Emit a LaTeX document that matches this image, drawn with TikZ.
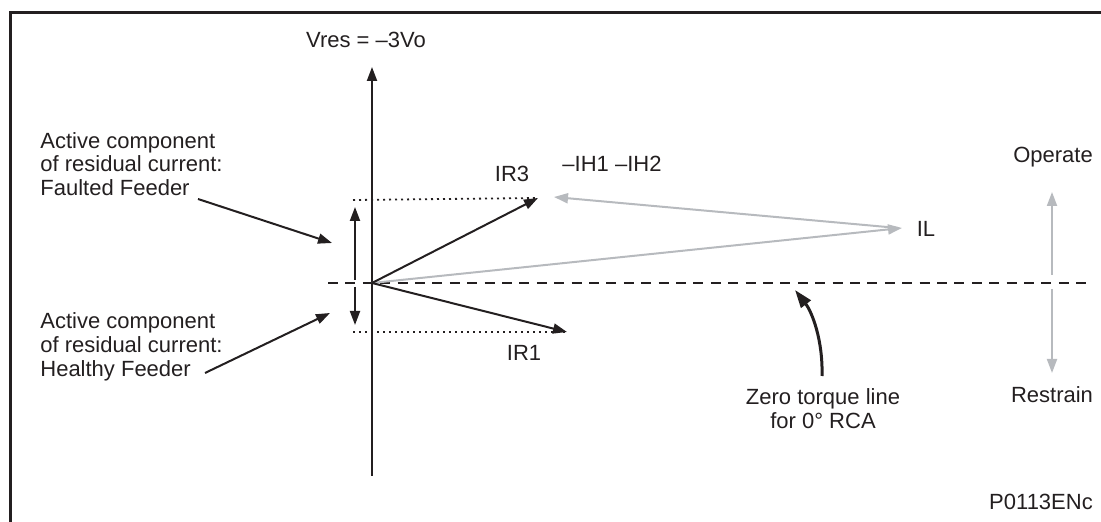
\documentclass[tikz,border=0pt]{standalone}
\usepackage{fontspec}
\setmainfont{Liberation Sans}
\usetikzlibrary{arrows.meta}
\definecolor{ink}{RGB}{35,31,32}
\definecolor{lightg}{RGB}{183,186,190}
\begin{document}
\begin{tikzpicture}[x=0.5pt,y=-0.5pt,
  font=\fontsize{11}{11.9}\selectfont, text=ink,
  tip/.style={-{Triangle[length=7pt,width=5pt]}},
  blk/.style={draw=ink, line width=1pt, tip},
  gry/.style={draw=lightg, line width=1pt, tip},
  dots/.style={draw=ink, line width=0.9pt, dash pattern=on 1pt off 2pt},
  lbl/.style={inner sep=0pt, align=left, anchor=west},
  txt/.style={inner sep=0pt, align=center}]
\useasboundingbox (0,0) rectangle (1101,522);
% frame
\draw[ink, line width=1.6pt] (1101,12.5) -- (10.5,12.5) -- (10.5,522);
% coordinates
\coordinate (O) at (372,283);
\coordinate (vtop) at (372,67);
\coordinate (vbot) at (372,476);
\coordinate (ir3) at (538,198);
\coordinate (ir1) at (567,332);
\coordinate (il) at (902,228);
\coordinate (ilb) at (898,228);
\coordinate (ih) at (554,197);
\coordinate (d3a) at (353,200);
\coordinate (d1a) at (353,332);
\coordinate (zl) at (328,283);
\coordinate (zr) at (1087,283);
\coordinate (ua) at (355,280);
\coordinate (ub) at (355,207);
\coordinate (da) at (355,287);
\coordinate (db) at (355,325);
\coordinate (opa) at (1052,275);
\coordinate (opb) at (1052,192);
\coordinate (rea) at (1052,289);
\coordinate (reb) at (1052,373);
\coordinate (fa1) at (198,199);
\coordinate (fa2) at (332,243);
\coordinate (he1) at (205,373);
\coordinate (he2) at (330,313);
\coordinate (zt1) at (822,376);
\coordinate (zt2) at (795,290);
% labels
\node[txt] (vres) at (366,40) {Vres = –3Vo};
\node[lbl] (faulted) at (40,164) {Active component\\of residual current:\\Faulted Feeder};
\node[lbl] (healthy) at (40,347) {Active component\\of residual current:\\Healthy Feeder};
\node[txt] (lir3) at (512,174) {IR3};
\node[txt] (lih) at (612,164) {–IH1 –IH2};
\node[txt] (lir1) at (524,353) {IR1};
\node[txt] (lil) at (926,229) {IL};
\node[txt] (lop) at (1053,157) {Operate};
\node[txt] (lre) at (1052,395) {Restrain};
\node[txt] (lzt) at (823,409) {Zero torque line\\for 0° RCA};
\node[txt] (lref) at (1041,502) {P0113ENc};
% zero torque line
\draw[ink, line width=1pt, dash pattern=on 5pt off 3.7pt] (zl) -- (zr);
% axis
\draw[blk] (vbot) -- (vtop);
% dotted projections
\draw[dots] (d3a) -- (ir3);
\draw[dots] (d1a) -- (ir1);
% gray vectors
\draw[gry] (O) -- (il);
\draw[gry] (ilb) -- (ih);
% residual currents
\draw[blk] (O) -- (ir3);
\draw[blk] (O) -- (ir1);
% active components
\draw[blk] (ua) -- (ub);
\draw[blk] (da) -- (db);
% operate / restrain
\draw[gry] (opa) -- (opb);
\draw[gry] (rea) -- (reb);
% callouts
\draw[blk] (fa1) -- (fa2);
\draw[blk] (he1) -- (he2);
\draw[draw=ink, line width=1.5pt, -{Triangle[length=9pt,width=6pt]}] (zt1) .. controls (823,340) and (812,312) .. (zt2);
\end{tikzpicture}
\end{document}
